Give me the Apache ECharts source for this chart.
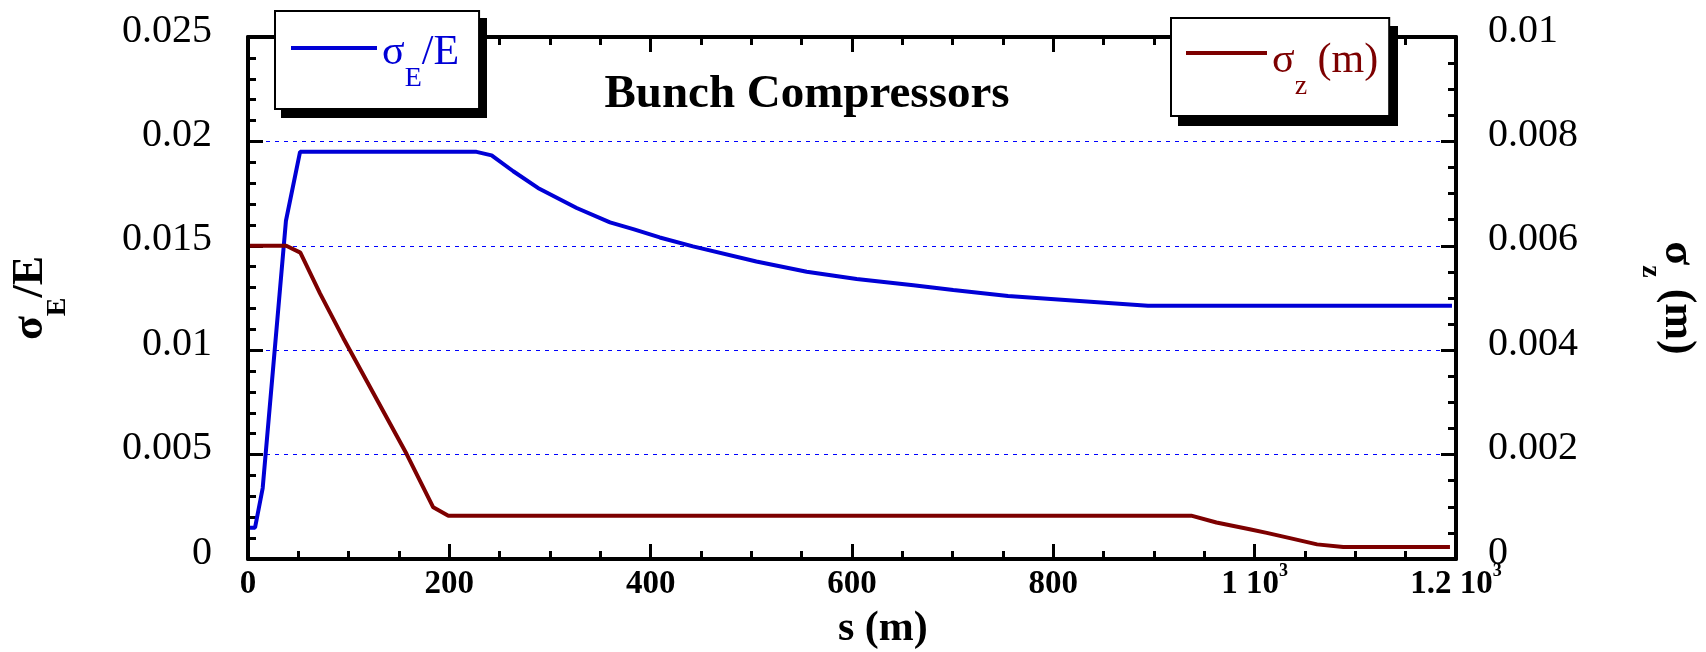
<!DOCTYPE html>
<html>
<head>
<meta charset="utf-8">
<script src="https://cdn.jsdelivr.net/npm/echarts@6/dist/echarts.min.js"></script>
<style>
  html, body { margin: 0; padding: 0; background: #fff; }
  #chart { width: 1706px; height: 652px; }
</style>
</head>
<body>
<div id="chart"></div>
<script>
// ---- data ----
const sigmaE_s   = [2, 7, 14.6, 37.7, 51.7, 227, 242, 263.5, 288, 326.5, 359.6, 382.7, 409, 442, 505, 555, 604.6, 661, 700.6, 755, 826, 894, 1196];
const sigmaE_val = [0.0015, 0.0015, 0.0034, 0.0162, 0.0195, 0.0195, 0.01933, 0.01857, 0.01777, 0.01681, 0.01612, 0.0158, 0.0154, 0.01497, 0.01425, 0.01376, 0.01341, 0.01311, 0.01288, 0.0126, 0.01236, 0.01213, 0.01213];

const sigmaZ_s   = [2, 38, 52, 71.5, 94.7, 157.6, 184, 199, 937, 962, 995, 1012, 1035, 1062, 1088, 1194];
const sigmaZ_val = [0.006, 0.006, 0.00587, 0.00509, 0.00423, 0.00201, 0.00099, 0.00083, 0.00083, 0.0007, 0.00057, 0.0005, 0.0004, 0.00028, 0.00023, 0.00023];

const xTickValues = [0, 200, 400, 600, 800, 1000, 1200];
const xTickText   = ['0', '200', '400', '600', '800', '1 10', '1.2 10'];
const xTickSup    = ['', '', '', '', '', '3', '3'];
const yLeftTickText  = ['0', '0.005', '0.01', '0.015', '0.02', '0.025'];
const yRightTickText = ['0', '0.002', '0.004', '0.006', '0.008', '0.01'];

const nameE = 'sigmaE';
const nameZ = 'sigmaZ';

// ---- styling ----
const FONT = 'Liberation Serif';
const BLUE = '#0000d6';
const RED = '#7d0000';

const zip = (xs, ys) => xs.map((x, i) => [x, ys[i]]);

const chart = echarts.init(document.getElementById('chart'), null, { renderer: 'canvas' });

const axisLineStyle = { color: '#000', width: 4 };
const tickStyle = { color: '#000', width: 3 };

function xAxisCfg(position, showLabel) {
  return {
    type: 'value', position: position, min: 0, max: 1200, interval: 200,
    axisLine: { show: true, onZero: false, lineStyle: axisLineStyle },
    axisTick: { show: true, inside: true, length: 15, lineStyle: tickStyle },
    minorTick: { show: true, splitNumber: 4, length: 8, lineStyle: tickStyle },
    splitLine: { show: false },
    axisLabel: {
      show: showLabel, margin: 3, color: '#000',
      formatter: function (v) {
        const i = xTickValues.indexOf(Math.round(v));
        if (i < 0) return '';
        return '{a|' + xTickText[i] + '}' + (xTickSup[i] ? '{s|' + xTickSup[i] + '}' : '');
      },
      rich: {
        a: { fontFamily: FONT, fontSize: 33, fontWeight: 'bold', lineHeight: 33, padding: [6, 0, 0, 0], verticalAlign: 'top', color: '#000' },
        s: { fontFamily: FONT, fontSize: 18, fontWeight: 'bold', lineHeight: 18, verticalAlign: 'top', color: '#000' }
      }
    }
  };
}

const legendRich = {
  m: { fontFamily: FONT, fontSize: 42, padding: [0, 0, 19, 0], verticalAlign: 'bottom' },
  b: { fontFamily: FONT, fontSize: 28, verticalAlign: 'bottom' }
};

const titleRich = {
  m: { fontFamily: FONT, fontSize: 44, fontWeight: 'bold', padding: [0, 0, 19, 0], verticalAlign: 'bottom', color: '#000' },
  b: { fontFamily: FONT, fontSize: 28, fontWeight: 'bold', verticalAlign: 'bottom', color: '#000' }
};

const option = {
  animation: false,
  backgroundColor: '#fff',
  title: {
    text: 'Bunch Compressors',
    left: 807, top: 71, padding: 0, textAlign: 'center',
    textStyle: { fontFamily: FONT, fontSize: 47, fontWeight: 'bold', color: '#000' }
  },
  grid: { left: 248, right: 250, top: 37, bottom: 93, containLabel: false },
  xAxis: [xAxisCfg('bottom', true), xAxisCfg('top', false)],
  yAxis: [
    {
      type: 'value', position: 'left', min: 0, max: 0.025, interval: 0.005,
      axisLine: { show: true, onZero: false, lineStyle: axisLineStyle },
      axisTick: { show: true, inside: true, length: 15, lineStyle: tickStyle },
      minorTick: { show: true, splitNumber: 5, length: 8, lineStyle: tickStyle },
      splitLine: { show: true, lineStyle: { color: '#0000ff', width: 1, type: [4, 5] } },
      axisLabel: {
        margin: 36, color: '#000', fontFamily: FONT, fontSize: 40,
        verticalAlign: 'bottom', lineHeight: 12,
        formatter: function (v, i) { return yLeftTickText[i]; }
      }
    },
    {
      type: 'value', position: 'right', min: 0, max: 0.01, interval: 0.002,
      axisLine: { show: true, onZero: false, lineStyle: axisLineStyle },
      axisTick: { show: true, inside: true, length: 15, lineStyle: tickStyle },
      minorTick: { show: true, splitNumber: 4, length: 8, lineStyle: tickStyle },
      splitLine: { show: false },
      axisLabel: {
        margin: 32, color: '#000', fontFamily: FONT, fontSize: 40,
        verticalAlign: 'bottom', lineHeight: 12,
        formatter: function (v, i) { return yRightTickText[i]; }
      }
    }
  ],
  legend: [
    {
      data: [nameE], left: 275, top: 11, orient: 'horizontal', z: 6,
      padding: [21, 20, 16, 16],
      backgroundColor: '#fff', borderColor: '#000', borderWidth: 2, borderRadius: 0,
      selectedMode: false,
      icon: 'path://M0,0L86,0L86,4L0,4Z M0,33L86,33Z',
      itemWidth: 86, itemHeight: 33,
      itemStyle: { borderWidth: 0 },
      formatter: function () { return '{m|σ}{b|E}{m|/E}'; },
      textStyle: { color: BLUE, rich: legendRich }
    },
    {
      data: [nameZ], left: 1171, top: 18, orient: 'horizontal', z: 6,
      padding: [22, 11, 15, 15],
      backgroundColor: '#fff', borderColor: '#000', borderWidth: 2, borderRadius: 0,
      selectedMode: false,
      icon: 'path://M0,0L81,0L81,4L0,4Z M0,39L81,39Z',
      itemWidth: 81, itemHeight: 39,
      itemStyle: { borderWidth: 0 },
      formatter: function () { return '{m|σ}{b|z}{m| (m)}'; },
      textStyle: { color: RED, rich: legendRich }
    }
  ],
  graphic: [
    // drop shadows of the two legend boxes
    { type: 'rect', z: 5, shape: { x: 281, y: 18, width: 206, height: 100 }, style: { fill: '#000' } },
    { type: 'rect', z: 5, shape: { x: 1178, y: 26, width: 220, height: 100 }, style: { fill: '#000' } },
    {
      type: 'text', x: 40, y: 298, rotation: Math.PI / 2,
      style: { text: '{m|σ}{b|E}{m|/E}', rich: titleRich, align: 'center', verticalAlign: 'middle' }
    },
    {
      type: 'text', x: 1668, y: 298, rotation: -Math.PI / 2,
      style: { text: '{m|σ}{b|z}{m| (m)}', rich: titleRich, align: 'center', verticalAlign: 'middle' }
    },
    {
      type: 'text', x: 838, y: 629,
      style: { text: 's (m)', fontFamily: FONT, fontSize: 42, fontWeight: 'bold', fill: '#000', align: 'left', verticalAlign: 'middle' }
    }
  ],
  series: [
    {
      name: nameE, type: 'line', xAxisIndex: 0, yAxisIndex: 0,
      data: zip(sigmaE_s, sigmaE_val),
      showSymbol: false, symbol: 'none', smooth: false,
      color: BLUE,
      lineStyle: { color: BLUE, width: 4 },
      z: 3
    },
    {
      name: nameZ, type: 'line', xAxisIndex: 0, yAxisIndex: 1,
      data: zip(sigmaZ_s, sigmaZ_val),
      showSymbol: false, symbol: 'none', smooth: false,
      color: RED,
      lineStyle: { color: RED, width: 4 },
      z: 3
    }
  ]
};

chart.setOption(option);
</script>
</body>
</html>
